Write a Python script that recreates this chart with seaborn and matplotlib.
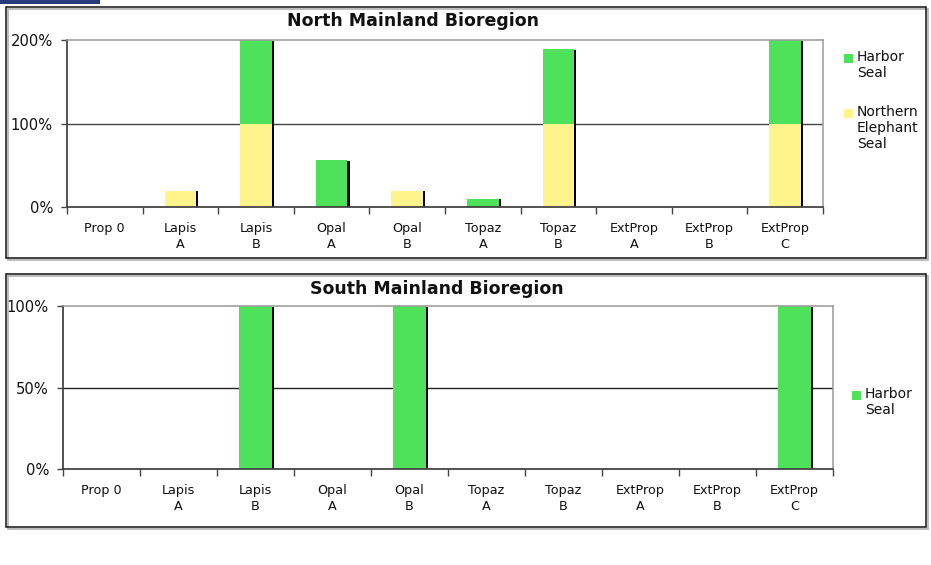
import numpy as np
import pandas as pd
import matplotlib
matplotlib.use("Agg")
import matplotlib.pyplot as plt
from matplotlib.patches import Rectangle
from matplotlib.ticker import FixedLocator, PercentFormatter
import seaborn as sns

# Site categories (two-line labels) and stacked percentages per species
categories = ["Prop 0", "Lapis\nA", "Lapis\nB", "Opal\nA", "Opal\nB",
              "Topaz\nA", "Topaz\nB", "ExtProp\nA", "ExtProp\nB", "ExtProp\nC"]
north_harbor = [0, 0, 100, 56, 0, 10, 89, 0, 0, 100]
north_elephant = [0, 19, 100, 0, 19, 0, 100, 0, 0, 100]
south_harbor = [0, 0, 100, 0, 100, 0, 0, 0, 0, 100]

north_ticks = [0, 100, 200]
south_ticks = [0, 50, 100]

GREEN = "#4de259"
YELLOW = "#fff38c"
BAR_W = 0.42
SHADOW_W = 0.027

sns.set_style("white")
plt.rcParams["font.family"] = ["DejaVu Sans"]

fig = plt.figure(figsize=(9.31, 5.65), dpi=100)
W, H = 931, 565


def fig_rect(x0, y0, x1, y1):
    """Convert pixel box (top-left origin) to figure fraction rect."""
    return [x0 / W, 1 - y1 / H, (x1 - x0) / W, (y1 - y0) / H]


# decorative strip and panel frames
fig.patches.append(Rectangle((0, 1 - 4 / H), 100 / W, 4 / H, transform=fig.transFigure,
                             facecolor="#243a7a", edgecolor="none"))
for (x0, y0, x1, y1) in [(6, 7, 926, 258), (6, 274, 926, 527)]:
    fig.patches.append(Rectangle((x0 / W + 1.5 / W, 1 - y1 / H - 1.5 / H), (x1 - x0) / W, (y1 - y0) / H,
                                 transform=fig.transFigure, facecolor="none",
                                 edgecolor="#b0b0b0", lw=1.2))
    fig.patches.append(Rectangle((x0 / W, 1 - y1 / H), (x1 - x0) / W, (y1 - y0) / H,
                                 transform=fig.transFigure, facecolor="none",
                                 edgecolor="#111111", lw=1.1))


def draw_panel(rect, stacks, colors, ticks, title, title_xy, grid_color):
    ax = fig.add_axes(rect)
    n = len(categories)
    df = pd.DataFrame({"site": categories})
    totals = np.zeros(n)
    for vals in stacks:
        totals = totals + np.array(vals, dtype=float)
    # right-hand dark edge of each stacked column
    ax.bar(np.arange(n) + BAR_W / 2 + SHADOW_W / 2, totals * 0.993, width=SHADOW_W,
           color="black", linewidth=0, zorder=1.5)
    # cumulative stacks, tallest drawn first
    cum = totals.copy()
    for vals, col in zip(stacks, colors):
        df["v"] = cum
        sns.barplot(data=df, x="site", y="v", color=col, width=BAR_W, saturation=1,
                    order=categories, ax=ax, linewidth=0, zorder=2)
        cum = cum - np.array(vals, dtype=float)

    ax.set_xlim(-0.5, n - 0.5)
    ax.set_ylim(0, ticks[-1])
    ax.set_xlabel("")
    ax.set_ylabel("")
    ax.set_yticks(ticks)
    ax.yaxis.set_major_formatter(PercentFormatter(decimals=0))
    ax.tick_params(axis="y", which="major", left=True, length=4, width=1,
                   color="#444444", labelsize=10.6, pad=6, labelcolor="#111111")
    ax.set_xticks(np.arange(n))
    ax.set_xticklabels(categories, fontsize=9.2, linespacing=1.25, color="#111111")
    ax.xaxis.set_minor_locator(FixedLocator(np.arange(n + 1) - 0.5))
    ax.tick_params(axis="x", which="major", bottom=False, length=0, pad=11)
    ax.tick_params(axis="x", which="minor", bottom=True, length=5, width=1,
                   color="#444444")
    for y in ticks[1:-1]:
        ax.axhline(y, color=grid_color, lw=1, zorder=0.5)
    for side in ["left", "bottom"]:
        ax.spines[side].set_color("#444444")
        ax.spines[side].set_linewidth(1.3)
    for side in ["top", "right"]:
        ax.spines[side].set_color("#999999")
        ax.spines[side].set_linewidth(1.1)
    fig.text(title_xy[0] / W, 1 - title_xy[1] / H, title, ha="center", va="center",
             fontsize=12.5, fontweight="bold", color="#111111")
    return ax


draw_panel(fig_rect(67, 40, 823, 207), [north_harbor, north_elephant], [GREEN, YELLOW],
           north_ticks, "North Mainland Bioregion", (413, 21), "#444444")
draw_panel(fig_rect(63, 306, 833, 469), [south_harbor], [GREEN],
           south_ticks, "South Mainland Bioregion", (437, 289), "#222222")


def legend_entry(x, y, color, label):
    fig.patches.append(Rectangle((x / W, 1 - (y + 4.5) / H), 9 / W, 9 / H,
                                 transform=fig.transFigure, facecolor=color, edgecolor="none"))
    fig.text((x + 13) / W, 1 - (y - 8) / H, label, ha="left", va="top",
             fontsize=10, linespacing=1.2, color="#111111")


legend_entry(844, 58, GREEN, "Harbor\nSeal")
legend_entry(844, 113, YELLOW, "Northern\nElephant\nSeal")
legend_entry(852, 395, GREEN, "Harbor\nSeal")

fig.savefig("out.png", dpi=100, facecolor="white")
